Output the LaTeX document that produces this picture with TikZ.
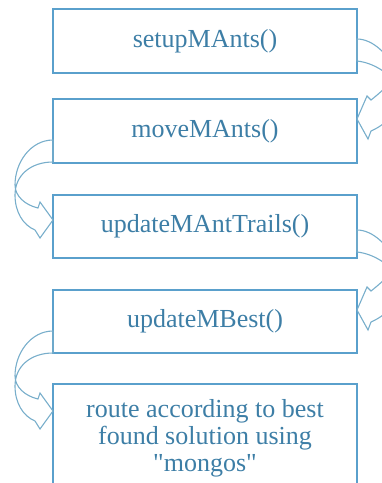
\documentclass[tikz,border=0pt]{standalone}
\usepackage{fontspec}
\setmainfont{Liberation Serif}
\newfontfamily\boxfont{Liberation Serif}
\usetikzlibrary{calc}
\definecolor{boxline}{HTML}{5AA0CC}
\definecolor{arrline}{HTML}{78AECB}
\definecolor{txt}{HTML}{3D7EA6}
\tikzset{
  stepbox/.style={draw=boxline, line width=1.3pt, minimum width=304pt, inner sep=0pt, outer sep=0pt,
    text=txt, font=\boxfont\fontsize{26}{27}\selectfont, align=center},
  arrowline/.style={draw=arrline, line width=1.1pt, line join=miter},
  pics/larrow/.style={code={
    \draw[arrowline] (0,0) .. controls (-22,0) and (-38,22) .. (-38,45)
      .. controls (-38,56) and (-28,65) .. (-15,68) -- (-13,62) -- (0,80) -- (-13,98) -- (-18,90)
      .. controls (-30,85) and (-38,72) .. (-38,55)
      .. controls (-38,35) and (-22,22) .. (0,22) -- cycle;
  }},
  pics/rarrow/.style={code={
    \draw[arrowline] (0,0) .. controls (16,0) and (32,16) .. (38,32)
      .. controls (40,38) and (28,50) .. (14,61) -- (10,57) -- (0,80) -- (11,100) -- (14,92)
      .. controls (28,86) and (43,72) .. (43,58)
      .. controls (42,40) and (20,24) .. (0,22) -- cycle;
  }},
}
\begin{document}
\begin{tikzpicture}[x=1pt,y=-1pt]
\useasboundingbox (0,0) rectangle (382,483);
\begin{scope}
\clip (0,0) rectangle (382,483);
\node[stepbox, minimum height=64pt] (b1) at (205,41) {setupMAnts()};
\node[stepbox, minimum height=64pt] (b2) at (205,131) {moveMAnts()};
\node[stepbox, minimum height=63pt] (b3) at (205,226.5) {updateMAntTrails()};
\node[stepbox, minimum height=63pt] (b4) at (205,321.5) {updateMBest()};
\node[stepbox, minimum height=108pt] (b5) at (205,438) {route according to best\\found solution using\\\textquotedbl mongos\textquotedbl};
\pic at ($(b1.south east)+(0,-34)$) {rarrow};
\pic at ($(b2.south west)+(0,-23)$) {larrow};
\pic at ($(b3.south east)+(0,-28)$) {rarrow};
\pic at ($(b4.south west)+(0,-22)$) {larrow};
\end{scope}
\end{tikzpicture}
\end{document}
